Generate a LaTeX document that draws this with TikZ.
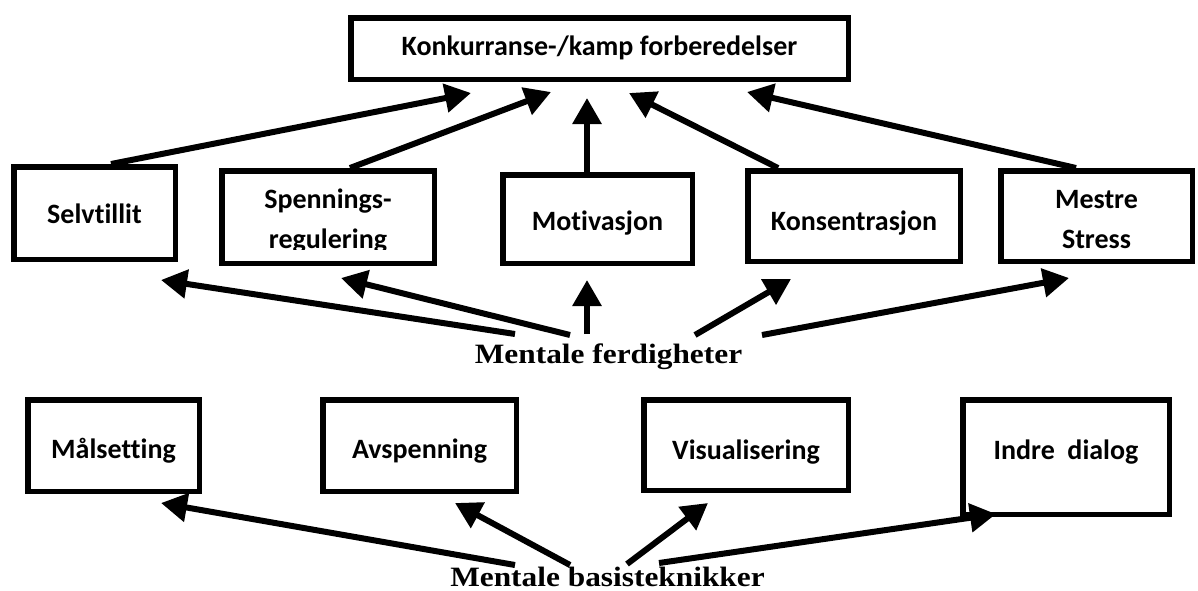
\documentclass[tikz,border=0pt]{standalone}
\usepackage{fontspec}
\usepackage{graphicx}
\usetikzlibrary{arrows.meta}
\newfontfamily\boxfont{Carlito}[Ligatures={NoCommon,NoContextual}]
\newfontfamily\labfont{Liberation Serif}
\begin{document}
\begin{tikzpicture}[x=1pt,y=-1pt,
  box/.style={draw, line width=5.5pt, rectangle, inner sep=0pt, outer sep=2.75pt, align=center,
    text height=22pt, text depth=0pt,
    font=\boxfont\bfseries\fontsize{28}{40}\selectfont},
  lab/.style={inner sep=0pt, anchor=base, font=\labfont\bfseries\fontsize{28}{32}\selectfont},
  arr/.style={line width=6pt, -{Triangle[length=26pt,width=28pt]}}]
\useasboundingbox[fill=white] (0,0) rectangle (1198,590);
% top
\node[box, minimum width=497.5pt, minimum height=61.5pt, text height=13pt] (top) at (599.5,48.5) {Konkurranse-/kamp forberedelser};
% row 2
\node[box, minimum width=161.5pt, minimum height=92.5pt, text height=20pt] (selv) at (94.5,213) {Selvtillit};
\node[box, minimum width=212.5pt, minimum height=92.5pt] (spen) at (328,217) {};
\begin{scope}
  \clip (221.5,170.5) rectangle (434.5,249.5);
  \node[box, draw=none, text height=62pt] (spentxt) at (328,217) {Spennings-\\regulering};
\end{scope}
\node[box, minimum width=189.5pt, minimum height=88.5pt, text height=23pt] (moti) at (597.5,219) {Motivasjon};
\node[box, minimum width=212.5pt, minimum height=90.5pt, text height=28pt] (kons) at (854,216) {Konsentrasjon};
\node[box, minimum width=191.5pt, minimum height=90.5pt, text height=64pt] (mest) at (1096.5,216) {Mestre\\Stress};
% row 3
\node[box, minimum width=171.5pt, minimum height=91.5pt, text height=25pt] (mal) at (113.5,445.5) {Målsetting};
\node[box, minimum width=193.5pt, minimum height=91.5pt, text height=25pt] (avs) at (419.5,445.5) {Avspenning};
\node[box, minimum width=204.5pt, minimum height=90.5pt, text height=28pt] (vis) at (746,445) {Visualisering};
\node[box, minimum width=206.5pt, minimum height=114.5pt, text height=4pt] (ind) at (1066,457) {Indre~~dialog};
% labels
\node[lab] (ferd) at (608.5,363) {\scalebox{1.12}[1]{Mentale ferdigheter}};
\node[lab] (basis) at (607.5,586) {\scalebox{1.12}[1]{Mentale basisteknikker}};
% arrows to top
\draw[arr] ([xshift=16.5pt]selv.north) -- ([xshift=-128.5pt,yshift=-11pt]top.south);
\draw[arr] ([xshift=22pt]spen.north) -- ([xshift=-48.5pt,yshift=-10pt]top.south);
\draw[arr] ([xshift=-10.5pt]moti.north) -- ([xshift=-12.5pt,yshift=-16pt]top.south);
\draw[arr] ([xshift=-76pt]kons.north) -- ([xshift=29.5pt,yshift=-11pt]top.south);
\draw[arr] ([xshift=-20.5pt]mest.north) -- ([xshift=147.5pt,yshift=-10pt]top.south);
% arrows from Mentale ferdigheter
\draw[arr] ([xshift=-93.5pt,yshift=29pt]ferd.base) -- ([xshift=66.5pt,yshift=-18pt]selv.south);
\draw[arr] ([xshift=-38.5pt,yshift=28pt]ferd.base) -- ([xshift=13pt,yshift=-12pt]spen.south);
\draw[arr] ([xshift=-21.5pt,yshift=29pt]ferd.base) -- ([xshift=-10.5pt,yshift=-14pt]moti.south);
\draw[arr] ([xshift=86.5pt,yshift=28pt]ferd.base) -- ([xshift=-63pt,yshift=-15pt]kons.south);
\draw[arr] ([xshift=153.5pt,yshift=28pt]ferd.base) -- ([xshift=-27.5pt,yshift=-14pt]mest.south);
% arrows from Mentale basisteknikker
\draw[arr] ([xshift=-92.5pt,yshift=21pt]basis.base) -- ([xshift=47.5pt,yshift=-9pt]mal.south);
\draw[arr] ([xshift=-37.5pt,yshift=21pt]basis.base) -- ([xshift=35.5pt,yshift=-9pt]avs.south);
\draw[arr] ([xshift=19.5pt,yshift=22pt]basis.base) -- ([xshift=-38pt,yshift=-10pt]vis.south);
\draw[arr] ([xshift=51.5pt,yshift=23pt]basis.base) -- ([xshift=-70pt,yshift=3pt]ind.south);
\end{tikzpicture}
\end{document}
